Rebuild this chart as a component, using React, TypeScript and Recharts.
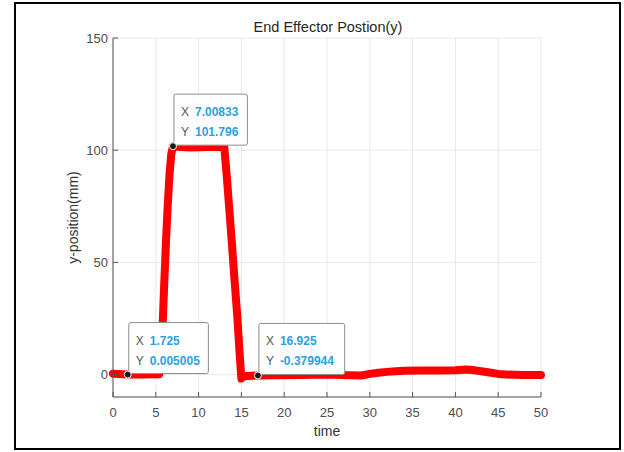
import { LineChart, Line, XAxis, YAxis, CartesianGrid, ReferenceDot } from 'recharts'

// ─── Data ─────────────────────────────────────────────────────────────────────

const TIME = [
  0, 1.725, 3.5, 5.4, 5.6, 5.8, 6.0, 6.2, 6.4, 6.6, 6.8, 7.00833, 8, 9, 10, 11, 12, 13.0,
  13.3, 13.6, 13.9, 14.2, 14.5, 14.8, 15.0, 15.3, 16.925, 19, 22, 25, 27.5, 29, 30, 31, 32,
  33, 34, 36, 38, 40, 41.3, 42, 43, 44, 45, 46, 48, 50,
]
const Y_POS = [
  0.4, 0.005005, 0.0, 0.1, 6, 22, 42, 60, 76, 89, 98, 101.796, 101.4, 101.2, 101.3, 101.4, 101.5, 101.3,
  88, 73, 58, 42, 27, 9, -1.8, -0.8, -0.379944, -0.3, -0.2, 0, -0.3, -0.4, 0.3, 0.8, 1.2,
  1.5, 1.7, 1.8, 1.8, 1.9, 2.3, 2.0, 1.5, 0.9, 0.3, 0, -0.2, -0.2,
]

const X_TICKS = [0, 5, 10, 15, 20, 25, 30, 35, 40, 45, 50]
const Y_TICKS = [0, 50, 100, 150]

const TIP_X = [1.725, 7.00833, 16.925]
const TIP_Y = [0.005005, 101.796, -0.379944]

const data = TIME.map((t, i) => ({ t, y: Y_POS[i] }))

const FONT = '"Liberation Sans", Arial, Helvetica, sans-serif'

// ─── Data tip (MATLAB style) ─────────────────────────────────────────────────

const DataTip = ({ cx, cy, tx, ty }: { cx: number; cy: number; tx: number; ty: number }) => {
  const xs = String(tx)
  const ys = String(ty)
  const n = Math.max(xs.length, ys.length)
  const w = 30 + 6.2 * n
  const bx = cx + 1
  const by = cy - 52
  return (
    <g>
      <rect x={bx} y={by} width={w} height={51} rx={2} fill="#fff" stroke="#8c8c8c" strokeWidth={1} />
      <text x={bx + 7} y={by + 22} fontFamily={FONT} fontSize={12} fill="#555">X</text>
      <text x={bx + 21} y={by + 22} fontFamily={FONT} fontSize={12} fontWeight="bold" fill="#2b9fe0">{xs}</text>
      <text x={bx + 7} y={by + 42} fontFamily={FONT} fontSize={12} fill="#555">Y</text>
      <text x={bx + 21} y={by + 42} fontFamily={FONT} fontSize={12} fontWeight="bold" fill="#2b9fe0">{ys}</text>
      <circle cx={cx} cy={cy} r={3.5} fill="#1a1a1a" stroke="#fff" strokeWidth={1} />
    </g>
  )
}

// ─── Component ────────────────────────────────────────────────────────────────

export default function App() {
  const tick = { fill: '#4d4d4d', fontSize: 13, fontFamily: FONT }
  return (
    <div style={{ position: 'absolute', left: 0, top: 0, width: 624, height: 452, background: '#fff' }}>
      <div
        style={{
          position: 'absolute',
          left: 14,
          top: 2,
          width: 603,
          height: 444,
          border: '2px solid #000',
        }}
      />
      <div style={{ position: 'absolute', left: 0, top: 0 }}>
        <LineChart width={624} height={452} data={data} margin={{ top: 38, right: 83, left: 68, bottom: 15 }}>
          <CartesianGrid stroke="#e8e8e8" strokeWidth={1} />
          <XAxis
            dataKey="t"
            type="number"
            domain={[0, 50]}
            ticks={X_TICKS}
            interval={0}
            height={40}
            tick={tick}
            tickSize={-5}
            tickMargin={16}
            axisLine={{ stroke: '#555' }}
            tickLine={{ stroke: '#555' }}
            label={{ value: 'time', position: 'insideBottom', offset: 1, fill: '#333', fontSize: 14, fontFamily: FONT }}
          />
          <YAxis
            type="number"
            domain={[-10, 150]}
            ticks={Y_TICKS}
            interval={0}
            width={45}
            tick={tick}
            tickSize={-5}
            tickMargin={10}
            axisLine={{ stroke: '#555' }}
            tickLine={{ stroke: '#555' }}
            label={(p: any) => {
              const vb = p.viewBox
              const x = vb.x + 5
              const y = vb.y + vb.height / 2
              return (
                <text
                  x={x}
                  y={y}
                  transform={`rotate(-90, ${x}, ${y})`}
                  textAnchor="middle"
                  dominantBaseline="central"
                  fontFamily={FONT}
                  fontSize={14}
                  fill="#333"
                >
                  y-position(mm)
                </text>
              )
            }}
          />
          <Line
            dataKey="y"
            type="linear"
            stroke="#ff0000"
            strokeWidth={8}
            strokeLinejoin="round"
            strokeLinecap="round"
            dot={false}
            activeDot={false}
            isAnimationActive={false}
          />
          {TIP_X.map((tx, i) => (
            <ReferenceDot
              key={tx}
              x={tx}
              y={TIP_Y[i]}
              r={3}
              shape={(p: any) => <DataTip cx={p.cx} cy={p.cy} tx={tx} ty={TIP_Y[i]} />}
            />
          ))}
          <text x={328} y={27} textAnchor="middle" dominantBaseline="central" fontFamily={FONT} fontSize={14.5} fill="#262626">
            End Effector Postion(y)
          </text>
        </LineChart>
      </div>
    </div>
  )
}
